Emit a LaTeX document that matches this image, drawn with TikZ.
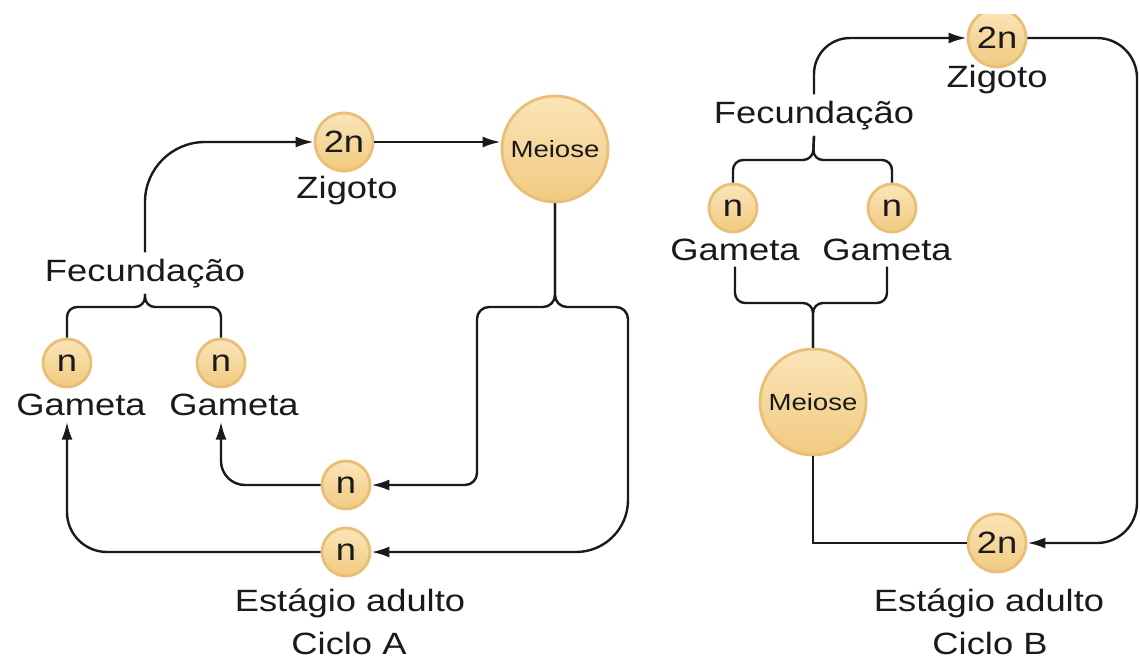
\documentclass[tikz,border=0pt]{standalone}
\usepackage{fontspec}
\setmainfont{Liberation Sans}[FakeStretch=1.18]
\usetikzlibrary{arrows.meta}
\definecolor{ringc}{HTML}{E9BE76}
\definecolor{topc}{HTML}{FAE5B8}
\definecolor{botc}{HTML}{F1CA80}
\definecolor{inkc}{HTML}{1A1A1A}
\tikzset{
  lab/.style={font=\fontsize{15.4}{18}\selectfont, inner sep=3pt, text=inkc},
  ball/.style={circle, draw=ringc, line width=1.4pt, top color=topc, bottom color=botc,
               inner sep=0pt, text=inkc, font=\fontsize{15.4}{18}\selectfont},
  ballsm/.style={ball, minimum size=24pt},
  balltwo/.style={ball, minimum size=29pt},
  ballbig/.style={ball, minimum size=53pt, font=\fontsize{11.7}{14}\selectfont},
  conn/.style={draw=inkc, line width=1.2pt},
  arr/.style={conn, -{Latex[length=9pt,width=5.5pt]}},
  brc/.style={conn, rounded corners=5pt}
}
\begin{document}
\begin{tikzpicture}[x=0.5pt,y=-0.5pt]
\fill[white] (0,0) rectangle (1140,659);
\useasboundingbox (0,0) rectangle (1140,659);

% ---------------- Ciclo A ----------------
\node[balltwo] (zA) at (344,142) {2n};
\node[lab,anchor=base] (zAl) at (347,198) {Zigoto};
\node[ballbig] (mA) at (555,149) {Meiose};
\node[lab,anchor=base] (fecA) at (145,281) {Fecundação};
\node[ballsm] (gA1) at (67,363) {n};
\node[ballsm] (gA2) at (221,363) {n};
\node[lab,anchor=base] (gA1l) at (81,415) {Gameta};
\node[lab,anchor=base] (gA2l) at (234,415) {Gameta};
\node[ballsm] (nA1) at (346,485) {n};
\node[ballsm] (nA2) at (346,552) {n};
\node[lab,anchor=base] (estA) at (350,611) {Estágio adulto};
\node[lab,anchor=base] (cicA) at (349,654) {Ciclo A};

\coordinate (bA) at (145,307);
\coordinate (bM) at (555,307);
\coordinate (lM) at (477,307);
\coordinate (rM) at (628,307);
\coordinate (rMm) at (628,420);

\draw[arr, rounded corners=30pt] (fecA.north) -- (zA.west -| fecA.north) -- (zA.west);
\draw[arr] (zA.east) -- (zA.east -| mA.west);
\draw[brc] (fecA.south) -- (bA) -- (gA1 |- bA) -- (gA1.north);
\draw[brc] (fecA.south) -- (bA) -- (gA2 |- bA) -- (gA2.north);
\draw[arr, rounded corners=6pt] (mA.south) -- (bM) -- (lM) -- (lM |- nA1) -- (nA1.east);
\draw[conn, rounded corners=6pt] (mA.south) -- (bM) -- (rM) -- (rMm);
\draw[arr, rounded corners=26pt] (rMm) -- (rMm |- nA2) -- (nA2.east);
\draw[arr, rounded corners=12pt] (nA1.west) -- (gA2 |- nA1) -- (gA2 |- gA2l.south);
\draw[arr, rounded corners=20pt] (nA2.west) -- (gA1 |- nA2) -- (gA1 |- gA1l.south);

% ---------------- Ciclo B ----------------
\begin{scope}
\clip (900,14) rectangle (1100,120);
\node[balltwo] (zB) at (997,38) {2n};
\end{scope}
\node[lab,anchor=base] (zBl) at (997,87) {Zigoto};
\node[lab,anchor=base] (fecB) at (814,123) {Fecundação};
\node[ballsm] (gB1) at (733,208) {n};
\node[ballsm] (gB2) at (892,208) {n};
\node[lab,anchor=base] (gB1l) at (735,260) {Gameta};
\node[lab,anchor=base] (gB2l) at (887,260) {Gameta};
\node[ballbig] (mB) at (813,402) {Meiose};
\node[balltwo] (aB) at (997,543) {2n};
\node[lab,anchor=base] (estB) at (989,611) {Estágio adulto};
\node[lab,anchor=base] (cicB) at (990,654) {Ciclo B};

\coordinate (bB1) at (813,160);
\coordinate (bB2) at (813,303);
\coordinate (rB) at (1137,0);

\draw[arr, rounded corners=18pt] (fecB.north) -- (zB.west -| fecB.north) -- (zB.west);
\draw[brc] (fecB.south) -- (bB1) -- (gB1 |- bB1) -- (gB1.north);
\draw[brc] (fecB.south) -- (bB1) -- (gB2 |- bB1) -- (gB2.north);
\draw[brc] (gB1l.south) -- (gB1l.south |- bB2) -- (bB2) -- (mB.north);
\draw[brc] (gB2l.south) -- (gB2l.south |- bB2) -- (bB2) -- (mB.north);
\draw[conn] (mB.south) -- (mB.south |- aB) -- (aB.west);
\draw[arr, rounded corners=20pt] (zB.east) -- (zB.east -| rB) -- (aB.east -| rB) -- (aB.east);
\end{tikzpicture}
\end{document}
